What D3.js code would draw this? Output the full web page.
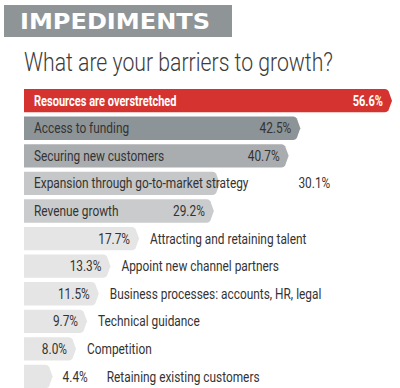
<!DOCTYPE html>
<html><head><meta charset="utf-8">
<script src="https://cdn.jsdelivr.net/npm/d3@7"></script>
<style>body{margin:0;background:#fff}svg{display:block}</style>
</head><body>
<script>
const headerText = "IMPEDIMENTS";
const titleText = "What are your barriers to growth?";
const categories = ["Resources are overstretched","Access to funding","Securing new customers","Expansion through go-to-market strategy","Revenue growth","Attracting and retaining talent","Appoint new channel partners","Business processes: accounts, HR, legal","Technical guidance","Competition","Retaining existing customers"];
const values = [56.6,42.5,40.7,30.1,29.2,17.7,13.3,11.5,9.7,8.0,4.4];
const barColors = ["#d5332f","#8d9497","#aaadaf","#c5c7c8","#cacbcc","#e5e5e5","#e5e5e5","#e5e5e5","#e5e5e5","#e5e5e5","#e5e5e5"];

const W=400,H=388;
const svg=d3.select("body").append("svg").attr("width",W).attr("height",H);
const font="'Roboto',sans-serif";

svg.append("rect").attr("x",4).attr("y",5).attr("width",228).attr("height",32).attr("fill","#8f9597");
svg.append("text").attr("x",20).attr("y",29).text(headerText)
  .attr("font-family","'DejaVu Sans',sans-serif").attr("font-weight","bold").attr("font-size",22).attr("fill","#fff")
  .attr("textLength",190).attr("lengthAdjust","spacingAndGlyphs");
svg.append("text").attr("x",24).attr("y",71).text(titleText)
  .attr("font-family",font).attr("font-weight",300).attr("font-size",25).attr("fill","#3c3c3c")
  .attr("textLength",309).attr("lengthAdjust","spacingAndGlyphs");

const x=d3.scaleLinear().domain([0,56.6]).range([24,392]);
const y=d3.scaleBand().domain(categories).range([89,89+27.2*11]).paddingInner(4.2/27.2).paddingOuter(0);
const bh=y.bandwidth();

function chevron(v,cat){
  const x0=x(0),x1=x(v),t=y(cat),b=t+bh,m=t+bh/2,k=7;
  return `M${x0},${t}L${x1-k},${t}Q${x1-k+2},${t} ${x1-k+3.5},${t+2}L${x1},${m}L${x1-k+3.5},${b-2}Q${x1-k+2},${b} ${x1-k},${b}L${x0},${b}Z`;
}
const g=svg.append("g");
const rows=g.selectAll("g.row").data(categories).join("g");
rows.append("path").attr("d",(c,i)=>chevron(values[i],c)).attr("fill",(c,i)=>barColors[i]);

const fs=13.8;
function mk(t,bold,col,cy){
  const el=g.append("text").text(t).attr("font-family",font).attr("font-size",fs)
    .attr("font-weight",bold?"bold":"normal").attr("fill",col).attr("y",cy);
  const w=el.node().getComputedTextLength()*(bold?0.8:0.86);
  el.attr("textLength",w).attr("lengthAdjust","spacingAndGlyphs");
  return [el,w];
}
categories.forEach((c,i)=>{
  const v=values[i], end=x(v), cy=y(c)+bh/2+5;
  const bold=i===0, col=i===0?"#fff":"#333";
  const [lbl,lw]=mk(c,bold,col,cy);
  const [val,vw]=mk(v.toFixed(1)+"%",bold,col,cy);
  if(i<5){
    lbl.attr("x",34);
    if(34+lw+50<end){ val.attr("x",end-9-vw); }
    else { val.attr("x",34+lw+50); }
  } else {
    if(end-9-vw>30){ val.attr("x",end-9-vw); lbl.attr("x",end+11); }
    else { val.attr("x",end+10); lbl.attr("x",end+10+vw+19); }
  }
});
</script>
</body></html>
